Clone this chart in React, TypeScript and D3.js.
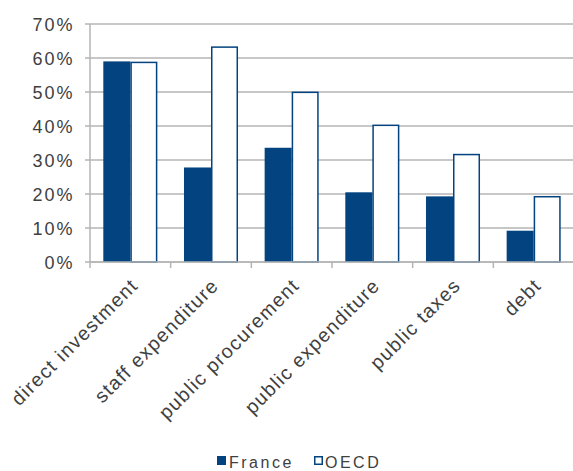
import { useEffect, useRef } from 'react';
import * as d3 from 'd3';

const categories = ['direct investment', 'staff expenditure', 'public procurement', 'public expenditure', 'public taxes', 'debt'];
const france = [0.59, 0.278, 0.336, 0.205, 0.193, 0.092];
const oecd = [0.587, 0.632, 0.499, 0.402, 0.316, 0.192];
const seriesNames = ['France', 'OECD'];
const yTicks = [0, 0.1, 0.2, 0.3, 0.4, 0.5, 0.6, 0.7];

const W = 573;
const H = 471;
const BLUE = '#03437f';
const GRID = '#b5b5b5';
const TEXT = '#404040';
const FONT = '"Liberation Sans", Arial, sans-serif';

const App = () => {
  const ref = useRef<SVGSVGElement | null>(null);

  useEffect(() => {
    const svg = d3.select(ref.current);
    svg.selectAll('*').remove();

    const margin = { top: 24, right: -1, bottom: 209, left: 90 };
    const width = W - margin.left - margin.right;
    const height = H - margin.top - margin.bottom;

    const g = svg.append('g').attr('transform', `translate(${margin.left},${margin.top})`);

    const x0 = d3.scaleBand().domain(categories).range([0, width]).paddingInner(0.33).paddingOuter(0.165);
    const x1 = d3.scaleBand().domain(seriesNames).range([0, x0.bandwidth()]);
    const y = d3.scaleLinear().domain([0, 0.7]).range([height, 0]);
    const step = x0.step();

    // gridlines + left ticks
    g.selectAll('.grid')
      .data(yTicks)
      .enter().append('line')
      .attr('x1', -5)
      .attr('x2', width)
      .attr('y1', d => y(d))
      .attr('y2', d => y(d))
      .attr('stroke', GRID)
      .attr('stroke-width', 1.5);

    g.selectAll('.ylab')
      .data(yTicks)
      .enter().append('text')
      .attr('x', -15.5)
      .attr('y', d => y(d) + 7)
      .attr('text-anchor', 'end')
      .attr('font-family', FONT)
      .attr('font-size', 18)
      .attr('letter-spacing', 2)
      .attr('fill', TEXT)
      .text(d => d3.format('.0%')(d));

    // axes
    g.append('line')
      .attr('x1', 0).attr('x2', 0)
      .attr('y1', y(0.7)).attr('y2', y(0))
      .attr('stroke', GRID).attr('stroke-width', 1.5);

    g.selectAll('.xtick')
      .data(d3.range(categories.length + 1))
      .enter().append('line')
      .attr('x1', i => i * step)
      .attr('x2', i => i * step)
      .attr('y1', height)
      .attr('y2', height + 6)
      .attr('stroke', GRID)
      .attr('stroke-width', 1.5);

    // bars
    const groups = g.selectAll('.cat')
      .data(categories)
      .enter().append('g')
      .attr('transform', d => `translate(${x0(d)},0)`);

    groups.append('rect')
      .attr('x', x1('France')!)
      .attr('y', (_, i) => y(france[i]))
      .attr('width', x1.bandwidth())
      .attr('height', (_, i) => height - y(france[i]))
      .attr('fill', BLUE);

    groups.append('rect')
      .attr('x', x1('OECD')! + 0.75)
      .attr('y', (_, i) => y(oecd[i]))
      .attr('width', x1.bandwidth() - 1.5)
      .attr('height', (_, i) => height - y(oecd[i]))
      .attr('fill', '#fff')
      .attr('stroke', BLUE)
      .attr('stroke-width', 1.5);

    g.append('line')
      .attr('x1', 0).attr('x2', width)
      .attr('y1', height).attr('y2', height)
      .attr('stroke', GRID).attr('stroke-width', 1.5);

    // category labels
    g.selectAll('.xlab')
      .data(categories)
      .enter().append('text')
      .attr('transform', d => `translate(${x0(d)! + x0.bandwidth() / 2 - 1},${height + 15}) rotate(-45)`)
      .attr('dy', '0.71em')
      .attr('text-anchor', 'end')
      .attr('font-family', FONT)
      .attr('font-size', 19.5)
      .attr('letter-spacing', 1.3)
      .attr('fill', TEXT)
      .text(d => d);

    // legend
    const legend = svg.append('g').attr('transform', 'translate(217,456)');
    legend.append('rect').attr('x', 0).attr('y', 0).attr('width', 9).attr('height', 9).attr('fill', BLUE);
    legend.append('text').attr('x', 12).attr('y', 11.5)
      .attr('font-family', FONT).attr('font-size', 16).attr('letter-spacing', 2.5)
      .attr('fill', TEXT).text(seriesNames[0]);
    legend.append('rect').attr('x', 97.75).attr('y', 0.75).attr('width', 7.5).attr('height', 7.5)
      .attr('fill', '#fff').attr('stroke', BLUE).attr('stroke-width', 1.5);
    legend.append('text').attr('x', 108).attr('y', 11.5)
      .attr('font-family', FONT).attr('font-size', 16).attr('letter-spacing', 2.5)
      .attr('fill', TEXT).text(seriesNames[1]);
  }, []);

  return (
    <svg ref={ref} width={W} height={H} style={{ position: 'absolute', left: 0, top: 0, background: '#fff' }}></svg>
  );
};

export default App;
